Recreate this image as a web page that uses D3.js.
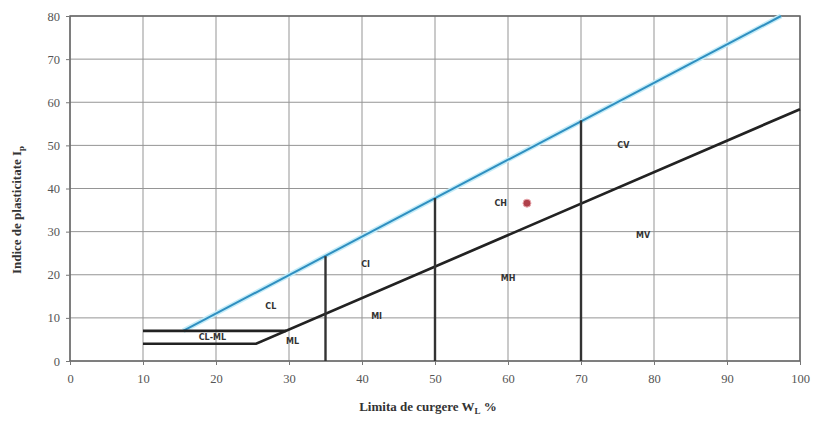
<!DOCTYPE html>
<html><head><meta charset="utf-8">
<script src="https://cdn.jsdelivr.net/npm/d3@7"></script>
<style>body{margin:0;background:#fff}svg{display:block}</style>
</head><body><svg id="c" width="813" height="424"></svg>
<script>
const xTicks = [0,10,20,30,40,50,60,70,80,90,100];
const yTicks = [0,10,20,30,40,50,60,70,80];
// A-line (black) with low-plasticity step
const aLine = [[10,4],[25.5,4],[100,58.4]];
const stepLine = [[10,7],[29.6,7]];
// U-line (blue)
const uLine = [[15.5,7],[97.4,80]];
// vertical boundaries: [wL, top Ip]
const verticals = [[35,24.3],[50,37.8],[70,55.8]];
// zone labels
const zoneNames = ["CL","CL-ML","ML","CI","MI","CH","MH","CV","MV"];
const zoneX = [27.5,19.5,30.5,40.5,42,59,60,75.8,78.5];
const zoneY = [12.7,5.5,4.5,22.5,10.3,36.5,19.3,50,29.2];
// sample point
const sample = [[62.6,36.6]];

const svg = d3.select("#c");
const x = d3.scaleLinear().domain([0,100]).range([70,800]);
const y = d3.scaleLinear().domain([0,80]).range([361,16]);

const g = svg.append("g");
g.selectAll(".gx").data(xTicks).enter().append("line")
 .attr("x1",d=>x(d)).attr("x2",d=>x(d)).attr("y1",y(0)).attr("y2",y(80))
 .attr("stroke","#959595").attr("stroke-width",1);
g.selectAll(".gy").data(yTicks).enter().append("line")
 .attr("x1",x(0)).attr("x2",x(100)).attr("y1",d=>y(d)).attr("y2",d=>y(d))
 .attr("stroke","#959595").attr("stroke-width",1);
g.append("rect").attr("x",x(0)).attr("y",y(80)).attr("width",x(100)-x(0)).attr("height",y(0)-y(80))
 .attr("fill","none").attr("stroke","#666").attr("stroke-width",1.5);

const xAxis = d3.axisBottom(x).tickValues(xTicks).tickSize(4).tickPadding(9);
const yAxis = d3.axisLeft(y).tickValues(yTicks).tickSize(4).tickPadding(6);
const ax = svg.append("g").attr("transform",`translate(0,${y(0)})`).call(xAxis);
const ay = svg.append("g").attr("transform",`translate(${x(0)},0)`).call(yAxis);
[ax,ay].forEach(a=>{
  a.select(".domain").remove();
  a.selectAll("line").attr("stroke","#777");
  a.selectAll("text").attr("font-family","Liberation Serif").attr("font-size",12.5).attr("fill","#555");
});

const line = d3.line().x(d=>x(d[0])).y(d=>y(d[1]));
svg.append("path").attr("d",line(uLine)).attr("fill","none").attr("stroke","#c4ecf8").attr("stroke-width",5);
svg.append("path").attr("d",line(uLine)).attr("fill","none").attr("stroke","#2f8fc0").attr("stroke-width",2);
svg.append("path").attr("d",line(aLine)).attr("fill","none").attr("stroke","#222").attr("stroke-width",2.7);
svg.append("path").attr("d",line(stepLine)).attr("fill","none").attr("stroke","#222").attr("stroke-width",2.7);
svg.selectAll(".v").data(verticals).enter().append("line")
 .attr("x1",d=>x(d[0])).attr("x2",d=>x(d[0])).attr("y1",y(0)).attr("y2",d=>y(d[1]))
 .attr("stroke","#333").attr("stroke-width",2.4);

svg.selectAll(".zl").data(zoneNames).enter().append("text")
 .attr("x",(d,i)=>x(zoneX[i])).attr("y",(d,i)=>y(zoneY[i])).attr("dy","0.35em")
 .attr("text-anchor","middle").attr("font-family","DejaVu Sans").attr("font-weight","bold")
 .attr("font-size",8).attr("fill","#333").text(d=>d);

svg.selectAll(".pt").data(sample).enter().append("circle")
 .attr("cx",d=>x(d[0])).attr("cy",d=>y(d[1])).attr("r",4)
 .attr("fill","#b0404a").attr("stroke","#e9aab0").attr("stroke-width",1);

const xt = svg.append("text").attr("x",428).attr("y",411).attr("text-anchor","middle")
 .attr("font-family","Liberation Serif").attr("font-weight","bold").attr("font-size",13).attr("fill","#333");
xt.append("tspan").text("Limita de curgere W");
xt.append("tspan").attr("font-size",9).attr("dy",3).text("L");
xt.append("tspan").attr("dy",-3).text(" %");

const yt = svg.append("text").attr("transform","translate(21,210) rotate(-90)").attr("text-anchor","middle")
 .attr("font-family","Liberation Serif").attr("font-weight","bold").attr("font-size",13).attr("fill","#333");
yt.append("tspan").text("Indice de plasticitate I");
yt.append("tspan").attr("font-size",9).attr("dy",3).text("p");
</script></body></html>
